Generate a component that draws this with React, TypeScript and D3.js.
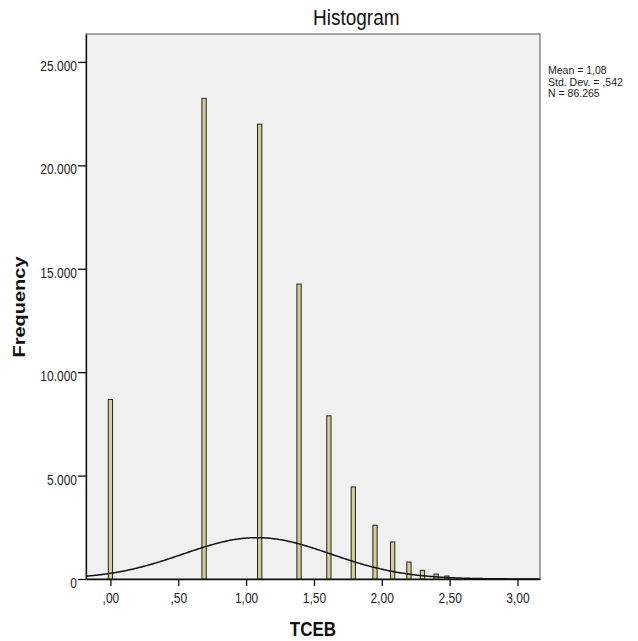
import React, { useEffect, useRef } from 'react';
import * as d3 from 'd3';

// bin centres (TCEB) and counts
const binCenters = [0.0, 0.69, 1.1, 1.39, 1.61, 1.79, 1.95, 2.08, 2.2, 2.3, 2.4, 2.48];
const frequencies = [8680, 23240, 21990, 14260, 7890, 4450, 2600, 1790, 820, 420, 240, 145];
const yTicks = [0, 5000, 10000, 15000, 20000, 25000];
const xTicks = [0, 0.5, 1, 1.5, 2, 2.5, 3];
const statLines = ['Mean = 1,08', 'Std. Dev. = ,542', 'N = 86.265'];

const MEAN = 1.08;
const SD = 0.542;
const N = 86265;
const BIN_WIDTH = 0.0315;

const W = 638;
const H = 641;
const FONT = '"Liberation Sans", Arial, sans-serif';
const STRETCH = 1.25; // the reference is a bit taller than wide

const locale = d3.formatLocale({ decimal: ',', thousands: '.', grouping: [3], currency: ['', ''] });
const fmtY = locale.format(',.0f');
const fmtX = (v: number) => locale.format('.2f')(v).replace(/^0/, '');

const App = () => {
    const svgRef = useRef<SVGSVGElement>(null);

    useEffect(() => {
        const svg = d3.select(svgRef.current);
        svg.selectAll('*').remove();

        const x = d3.scaleLinear().domain([-0.18, 3.166]).range([86, 540]);
        const y = d3.scaleLinear().domain([0, 26350]).range([579, 34]);

        // plot background + frame
        svg.append('rect')
            .attr('x', 86).attr('y', 34)
            .attr('width', 540 - 86).attr('height', 579 - 34)
            .attr('fill', '#f0f0f0')
            .attr('stroke', '#555')
            .attr('stroke-width', 1);

        // bars
        svg.append('g')
            .selectAll('rect')
            .data(binCenters)
            .join('rect')
            .attr('x', d => x(d - BIN_WIDTH / 2))
            .attr('y', (d, i) => y(frequencies[i]))
            .attr('width', x(BIN_WIDTH) - x(0))
            .attr('height', (d, i) => y(0) - y(frequencies[i]))
            .attr('fill', '#d3ce97')
            .attr('stroke', '#222')
            .attr('stroke-width', 1);

        // fitted normal curve
        const pts = d3.range(-0.18, 3.17, 0.01).map(v => {
            const z = (v - MEAN) / SD;
            return [v, (N * BIN_WIDTH * Math.exp(-0.5 * z * z)) / (SD * Math.sqrt(2 * Math.PI))];
        });
        svg.append('path')
            .datum(pts)
            .attr('d', d3.line<number[]>().x(d => x(d[0])).y(d => y(d[1])).curve(d3.curveBasis))
            .attr('fill', 'none')
            .attr('stroke', '#111')
            .attr('stroke-width', 1.5);

        // axes
        const yAxis = svg.append('g')
            .attr('transform', 'translate(86,0)')
            .call(d3.axisLeft(y).tickValues(yTicks).tickFormat(d => fmtY(d as number)).tickSize(8).tickSizeOuter(0));
        yAxis.selectAll('text')
            .attr('x', 0).attr('dy', null).attr('y', 0)
            .attr('transform', `translate(-9,8.5) scale(1,${STRETCH})`);

        const xAxis = svg.append('g')
            .attr('transform', 'translate(0,579)')
            .call(d3.axisBottom(x).tickValues(xTicks).tickFormat(d => fmtX(d as number)).tickSize(7).tickSizeOuter(0));
        xAxis.selectAll('text')
            .attr('y', 0).attr('dy', null)
            .attr('transform', `translate(0,24) scale(1,${STRETCH})`);

        [yAxis, xAxis].forEach(ax => {
            ax.selectAll('text').attr('font-family', FONT).attr('font-size', 12).attr('fill', '#222');
            ax.selectAll('line').attr('stroke', '#111').attr('stroke-width', 1.3);
            ax.select('.domain').attr('stroke', '#111').attr('stroke-width', 1.3);
        });

        // titles
        svg.append('text')
            .attr('transform', `translate(313,25) scale(1,1.15)`)
            .attr('font-family', FONT).attr('font-size', 19)
            .attr('fill', '#111')
            .text('Histogram');

        svg.append('text')
            .attr('transform', `translate(313,636) scale(1,1.23)`)
            .attr('text-anchor', 'middle')
            .attr('font-family', FONT).attr('font-size', 17).attr('font-weight', 'bold')
            .attr('fill', '#111')
            .text('TCEB');

        svg.append('text')
            .attr('transform', `translate(25,307) rotate(-90) scale(${STRETCH},1)`)
            .attr('text-anchor', 'middle')
            .attr('font-family', FONT).attr('font-size', 16).attr('font-weight', 'bold')
            .attr('fill', '#111')
            .text('Frequency');

        // stats box
        svg.append('g')
            .selectAll('text')
            .data(statLines)
            .join('text')
            .attr('transform', (d, i) => `translate(548,${74 + i * 11.5})`)
            .attr('font-family', FONT).attr('font-size', 10.5)
            .attr('fill', '#222')
            .text(d => d);
    }, []);

    return (
        <svg ref={svgRef} width={W} height={H}
            style={{ position: 'absolute', left: 0, top: 0, background: '#fff' }} />
    );
};

export default App;
